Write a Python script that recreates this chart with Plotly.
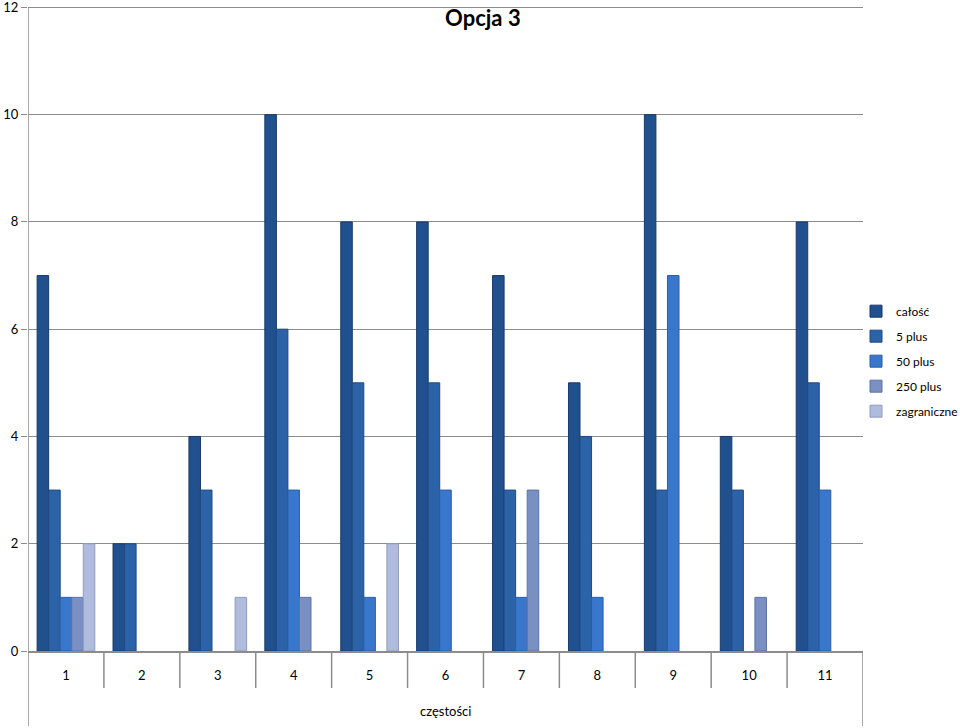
import plotly.graph_objects as go

categories = [1, 2, 3, 4, 5, 6, 7, 8, 9, 10, 11]
series_names = ["całość", "5 plus", "50 plus", "250 plus", "zagraniczne"]
calosc = [7, 2, 4, 10, 8, 8, 7, 5, 10, 4, 8]
plus5 = [3, 2, 3, 6, 5, 5, 3, 4, 3, 3, 5]
plus50 = [1, 0, 0, 3, 1, 3, 1, 1, 7, 0, 3]
plus250 = [1, 0, 0, 1, 0, 0, 3, 0, 0, 1, 0]
zagraniczne = [2, 0, 1, 0, 2, 0, 0, 0, 0, 0, 0]
y_ticks = [0, 2, 4, 6, 8, 10, 12]

series_values = [calosc, plus5, plus50, plus250, zagraniczne]
colors = ["#21508F", "#2C62A8", "#3877CC", "#7A8FC2", "#AFBCDD"]
edges = ["#173A6B", "#1F4A82", "#2A5EA6", "#5D72A3", "#8E9CC0"]

FONT = "Lato, 'Open Sans', sans-serif"
GRID = "#8C8C8C"

fig = go.Figure()
for name, vals, c, e in zip(series_names, series_values, colors, edges):
    fig.add_trace(go.Bar(
        x=categories, y=vals, name=name, legendgroup=name,
        marker=dict(color=c, line=dict(color=e,
                                       width=[1 if v else 0 for v in vals])),
    ))

# plot area: bottom (0) at y=651 px, 12 at y=7 px
Y_MAX = 12.1
plot_h = (651 - 7) / 12 * Y_MAX
top_m = 651 - plot_h
y_top_frac = max(y_ticks) / Y_MAX

shapes = []
for i in range(len(categories) + 1):
    xv = categories[0] - 0.5 + i
    if i == 0:
        y0, y1 = -(726 - 651) / plot_h, y_top_frac
    elif i == len(categories):
        y0, y1 = -(726 - 651) / plot_h, 0
    else:
        y0, y1 = -(688 - 651) / plot_h, 0
    shapes.append(dict(type="line", xref="x", yref="paper", x0=xv, x1=xv,
                       y0=y0, y1=y1, line=dict(color=GRID, width=1.5)))

fig.update_layout(
    width=960, height=728,
    margin=dict(l=28, r=97, t=top_m, b=77, autoexpand=False),
    paper_bgcolor="white", plot_bgcolor="white",
    barmode="group", bargap=0.24, bargroupgap=0,
    font=dict(family=FONT, size=13, color="black"),
    title=dict(text="<b>Opcja 3</b>", x=0.503, xref="container", xanchor="center",
               y=1 - 18 / 728, yanchor="middle",
               font=dict(family=FONT, size=22, color="black")),
    xaxis=dict(range=[0.5, 11.5], tickmode="array", tickvals=categories,
               ticktext=[str(c) for c in categories],
               showgrid=False, zeroline=False, showline=True,
               linecolor=GRID, linewidth=1.5, ticks="", ticklabelstandoff=12,
               tickfont=dict(family=FONT, size=13), automargin=False),
    yaxis=dict(range=[0, Y_MAX], tickmode="array", tickvals=y_ticks,
               showgrid=True, gridcolor=GRID, gridwidth=1,
               zeroline=False, showline=False,
               ticks="outside", ticklen=6, tickcolor=GRID,
               ticklabeloverflow="allow",
               tickfont=dict(family=FONT, size=13), automargin=False),
    legend=dict(x=(856 - 28) / 835, xanchor="left",
                y=(651 - 361) / plot_h, yanchor="middle",
                font=dict(family=FONT, size=12), tracegroupgap=6,
                itemwidth=30, bgcolor="rgba(0,0,0,0)"),
    shapes=shapes,
    annotations=[dict(text="częstości", xref="paper", yref="paper",
                      x=0.5, y=-(711 - 651) / plot_h, xanchor="center",
                      yanchor="middle", showarrow=False,
                      font=dict(family=FONT, size=13))],
)

fig.write_html("out.html")
